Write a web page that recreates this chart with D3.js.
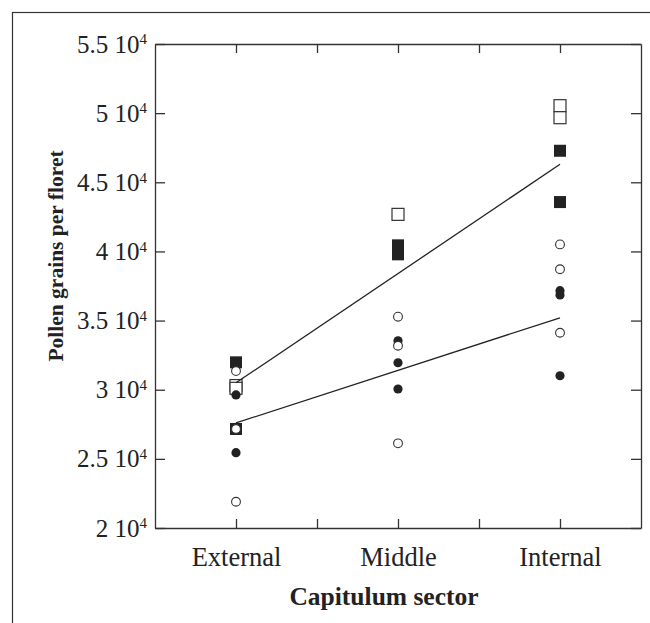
<!DOCTYPE html>
<html>
<head>
<meta charset="utf-8">
<script src="https://cdn.jsdelivr.net/npm/d3@7"></script>
<style>
  body { margin: 0; background: #fff; }
  svg { display: block; font-family: "Liberation Serif", "DejaVu Serif", serif; }
</style>
</head>
<body>
<div id="chart"></div>
<script>
// sectors and their positions on the 0..6 x scale
let sectors = ["External", "Middle", "Internal"];
let sectorPos = [1, 3, 5];

// pollen grains per floret, one list per sector
let openSquares   = [[30300, 30100], [42680], [50540, 49670]];
let filledSquares = [[31980, 27160], [40440, 39790], [47280, 43570]];
let filledCircles = [[29620, 25450], [33540, 31950, 30050], [37160, 36850, 31010]];
let openCircles   = [[31350, 27160, 21900], [35280, 33180, 26120], [40510, 38710, 34120]];

// fitted lines, value at External and at Internal
let upperLine = [30500, 46300];
let lowerLine = [27600, 35200];

let yTicks = [20000, 25000, 30000, 35000, 40000, 45000, 50000, 55000];

let svgWidth = 650;
let svgHeight = 623;

let margin = { top: 44, right: 9, bottom: 95, left: 155 };
let width = svgWidth - margin.left - margin.right;
let height = svgHeight - margin.top - margin.bottom;

let svg = d3.select("#chart")
  .append("svg")
  .attr("width", svgWidth)
  .attr("height", svgHeight);

// outer frame (only top and left edges show)
svg.append("rect")
  .attr("x", 12.5)
  .attr("y", 12.5)
  .attr("width", 700)
  .attr("height", 700)
  .attr("fill", "none")
  .attr("stroke", "#333")
  .attr("stroke-width", 1.2);

let chartGroup = svg.append("g")
  .attr("transform", `translate(${margin.left}, ${margin.top})`);

let xScale = d3.scaleLinear().domain([0, 6]).range([0, width]);
let yScale = d3.scaleLinear().domain([20000, 55000]).range([height, 0]);

// flatten a series into points
function toPoints(series) {
  let pts = [];
  series.forEach(function(vals, i) {
    vals.forEach(function(v) {
      pts.push({ x: sectorPos[i], y: v });
    });
  });
  return pts;
}

// axes
let bottomAxis = d3.axisBottom(xScale)
  .tickValues([1, 2, 3, 4, 5])
  .tickSizeInner(-9)
  .tickSizeOuter(0)
  .tickPadding(19)
  .tickFormat(function(d) {
    let i = sectorPos.indexOf(d);
    return i >= 0 ? sectors[i] : "";
  });

let topAxis = d3.axisTop(xScale)
  .tickValues([1, 2, 3, 4, 5])
  .tickSizeInner(-9)
  .tickSizeOuter(0)
  .tickFormat("");

let leftAxis = d3.axisLeft(yScale)
  .tickValues(yTicks)
  .tickSizeInner(-10)
  .tickSizeOuter(0)
  .tickPadding(8);

let rightAxis = d3.axisRight(yScale)
  .tickValues(yTicks)
  .tickSizeInner(-10)
  .tickSizeOuter(0)
  .tickFormat("");

let gx = chartGroup.append("g")
  .attr("transform", `translate(0, ${height})`)
  .call(bottomAxis);

chartGroup.append("g").call(topAxis);

let gy = chartGroup.append("g").call(leftAxis);

chartGroup.append("g")
  .attr("transform", `translate(${width}, 0)`)
  .call(rightAxis);

chartGroup.selectAll(".domain, .tick line")
  .attr("stroke", "#333")
  .attr("stroke-width", 1.3);

gx.selectAll("text")
  .attr("font-family", "Liberation Serif")
  .attr("font-size", "26.5px")
  .attr("fill", "#222");

// y labels like "5.5 10^4"
gy.selectAll(".tick text")
  .attr("font-family", "Liberation Serif")
  .attr("font-size", "25px")
  .attr("fill", "#222")
  .each(function(d) {
    let t = d3.select(this);
    t.text(null);
    t.append("tspan").text(`${d / 10000} 10`);
    t.append("tspan")
      .attr("font-size", "15px")
      .attr("dy", "-0.55em")
      .text("4");
  });

// lines
let lineGen = d3.line()
  .x(d => xScale(d[0]))
  .y(d => yScale(d[1]));

let sq = 12;

chartGroup.selectAll(".open-sq")
  .data(toPoints(openSquares))
  .enter()
  .append("rect")
  .attr("x", d => xScale(d.x) - sq / 2)
  .attr("y", d => yScale(d.y) - sq / 2)
  .attr("width", sq)
  .attr("height", sq)
  .attr("fill", "#fff")
  .attr("stroke", "#333")
  .attr("stroke-width", 1.2);

chartGroup.selectAll(".filled-sq")
  .data(toPoints(filledSquares))
  .enter()
  .append("rect")
  .attr("x", d => xScale(d.x) - sq / 2)
  .attr("y", d => yScale(d.y) - sq / 2)
  .attr("width", sq)
  .attr("height", sq)
  .attr("fill", "#222");

[upperLine, lowerLine].forEach(function(l) {
  chartGroup.append("path")
    .datum([[sectorPos[0], l[0]], [sectorPos[2], l[1]]])
    .attr("d", lineGen)
    .attr("fill", "none")
    .attr("stroke", "#222")
    .attr("stroke-width", 1.3);
});

chartGroup.selectAll(".filled-c")
  .data(toPoints(filledCircles))
  .enter()
  .append("circle")
  .attr("cx", d => xScale(d.x))
  .attr("cy", d => yScale(d.y))
  .attr("r", 4.6)
  .attr("fill", "#222");

chartGroup.selectAll(".open-c")
  .data(toPoints(openCircles))
  .enter()
  .append("circle")
  .attr("cx", d => xScale(d.x))
  .attr("cy", d => yScale(d.y))
  .attr("r", 4.4)
  .attr("fill", "#fff")
  .attr("stroke", "#333")
  .attr("stroke-width", 1.1);

// axis titles
svg.append("text")
  .attr("x", 384)
  .attr("y", 605)
  .attr("text-anchor", "middle")
  .attr("font-family", "Liberation Serif")
  .attr("font-weight", "bold")
  .attr("font-size", "25.5px")
  .attr("fill", "#222")
  .text("Capitulum sector");

svg.append("text")
  .attr("transform", "rotate(-90)")
  .attr("x", -256)
  .attr("y", 63)
  .attr("text-anchor", "middle")
  .attr("font-family", "Liberation Serif")
  .attr("font-weight", "bold")
  .attr("font-size", "21.5px")
  .attr("fill", "#222")
  .text("Pollen grains per floret");
</script>
</body>
</html>
